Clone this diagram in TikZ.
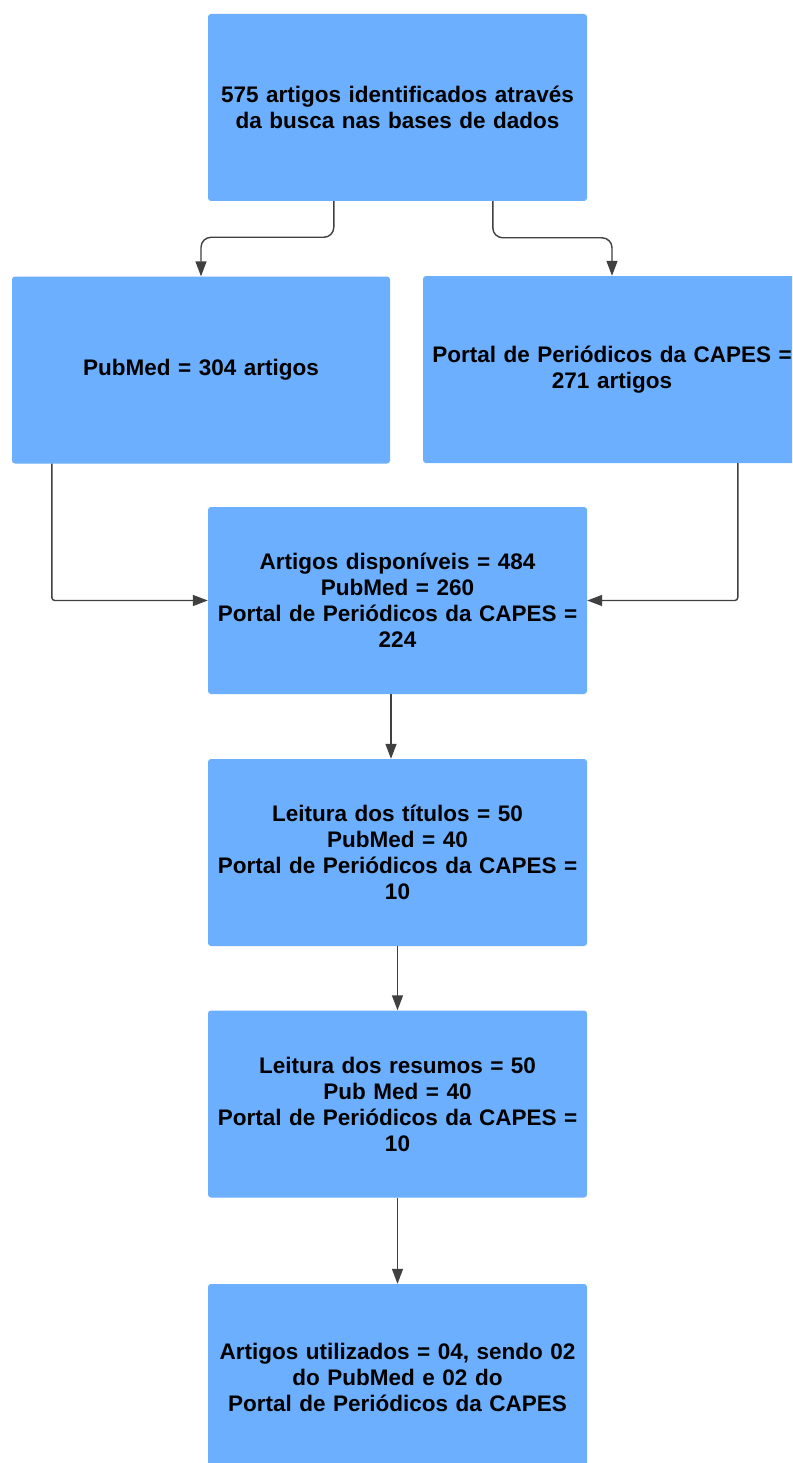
\documentclass[tikz,border=0pt]{standalone}
\usepackage{fontspec}
\setmainfont{Liberation Sans}
\usetikzlibrary{arrows.meta,calc}
\definecolor{boxblue}{HTML}{6BAFFE}
\definecolor{linegray}{HTML}{404040}
\tikzset{
  flowbox/.style={fill=boxblue, draw=none, rounded corners=3pt, minimum width=379pt, minimum height=187pt, inner sep=0pt, align=center, text width=370pt, font=\fontsize{22.5}{26}\selectfont\bfseries},
  conn/.style={draw=linegray, line width=1.4pt, -{Triangle[length=15pt,width=11pt]}},
}
\begin{document}
\begin{tikzpicture}[x=1pt,y=-1pt]
\useasboundingbox (0,0) rectangle (792,1463);
\clip (0,0) rectangle (792,1463);
\fill[white] (0,0) rectangle (792,1463);
\node[flowbox] (b1) at (397.5,107.5) {575 artigos identificados através\\da busca nas bases de dados};
\node[flowbox, minimum width=378pt] (pub) at (201,370) {PubMed = 304 artigos};
\node[flowbox, minimum width=378pt] (cap) at (612,369.5) {Portal de Periódicos da CAPES =\\271 artigos};
\node[flowbox] (b3) at (397.5,600.5) {Artigos disponíveis = 484\\PubMed = 260\\Portal de Periódicos da CAPES =\\224};
\node[flowbox] (b4) at (397.5,852.5) {Leitura dos títulos = 50\\PubMed = 40\\Portal de Periódicos da CAPES =\\10};
\node[flowbox] (b5) at (397.5,1104) {Leitura dos resumos = 50\\Pub Med = 40\\Portal de Periódicos da CAPES =\\10};
\node[flowbox] (b6) at (397.5,1377.5) {Artigos utilizados = 04, sendo 02\\do PubMed e 02 do\\Portal de Periódicos da CAPES};
% connectors
\draw[conn, rounded corners=10pt] ($(b1.south west)+(126,0)$) |- ($(pub.north)+(40,-39)$) -| (pub.north);
\draw[conn, rounded corners=10pt] ($(b1.south west)+(285,0)$) |- ($(cap.north)+(-40,-38)$) -| (cap.north);
\draw[conn, rounded corners=3pt] ($(pub.south west)+(40,0)$) |- (b3.west);
\draw[conn, rounded corners=3pt] ($(cap.south west)+(315,0)$) |- (b3.east);
\draw[conn] ($(b3.south)+(-6.5,0)$) -- ($(b4.north)+(-6.5,0)$);
\draw[conn] (b4.south) -- (b5.north);
\draw[conn] (b5.south) -- (b6.north);
\end{tikzpicture}
\end{document}
